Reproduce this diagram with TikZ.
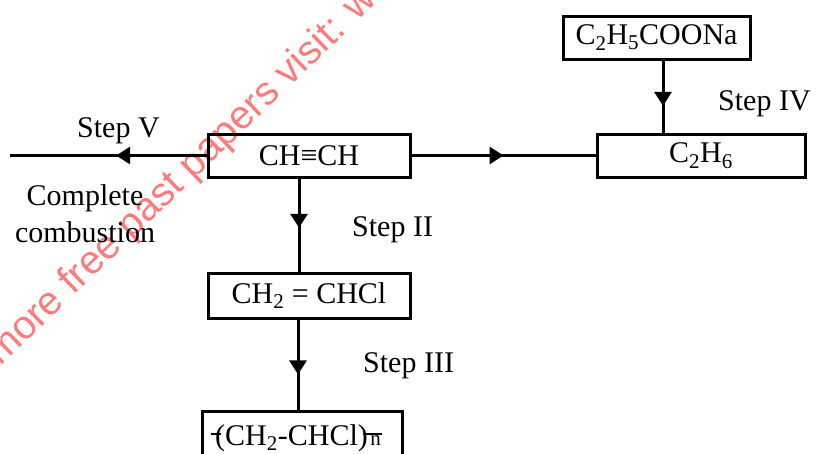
\documentclass[tikz,border=0pt]{standalone}
\usepackage{fontspec}
\setmainfont{Liberation Serif}
\newfontfamily\wmfont{Liberation Sans}
\usetikzlibrary{arrows.meta,decorations.markings}

\definecolor{wmred}{RGB}{255,122,122}

\tikzset{
  txt/.style={font=\fontsize{30}{37}\selectfont, inner sep=0pt},
  box/.style={txt, draw, line width=3pt, rectangle},
  conn/.style={line width=3pt},
  midarrow/.style={postaction={decorate}, decoration={markings,
      mark=at position #1 with {\arrow{Triangle[length=14pt,width=17pt]}}}},
  bond/.style={line width=1.5pt}
}

\begin{document}
\begin{tikzpicture}[x=1pt, y=-1pt]
  \useasboundingbox (0,0) rectangle (816,453);
  \clip (0,0) rectangle (816,453);

  % watermark
  \node[font=\wmfont\fontsize{40}{40}\selectfont, text=wmred, rotate=44,
        anchor=base west, inner sep=0pt] (wm) at (0,367)
        {more free past papers visit: www};

  % compound boxes
  \node[box, minimum width=202pt, minimum height=43pt] (acet) at (309,155.5) {CH≡CH};
  \node[box, minimum width=208pt, minimum height=43pt] (ethane) at (701,155.5) {C\textsubscript{2}H\textsubscript{6}};
  \node[box, minimum width=187pt, minimum height=43pt] (salt) at (656.5,37.5) {C\textsubscript{2}H\textsubscript{5}COONa};
  \node[box, minimum width=202pt, minimum height=45pt] (vcl) at (309,295.5) {CH\textsubscript{2} = CHCl};
  \node[box, minimum width=200pt, minimum height=60pt] (pvc) at (302,441) {};

  % polymer formula
  \node[txt, anchor=base west] (pvctxt) at (215,445) {(CH\textsubscript{2}-CHCl)};
  \node[font=\fontsize{21}{21}\selectfont, inner sep=0pt, anchor=base west] (pvcn)
        at ([xshift=2pt]pvctxt.base east) {n};
  \draw[bond] ([xshift=-4pt,yshift=11pt]pvctxt.base west) -- ++(10,0);
  \draw[bond] ([xshift=-5pt,yshift=11pt]pvctxt.base east) -- ([xshift=1pt,yshift=11pt]pvcn.base east);

  % free end of the combustion line
  \coordinate (burn) at (10,155.5);

  % connectors
  \draw[conn, midarrow=0.46] (acet.west) -- (burn);
  \draw[conn, midarrow=0.50] (acet.east) -- (ethane.west);
  \draw[conn, midarrow=0.63] ([xshift=6.5pt]salt.south) -- ([xshift=6.5pt]salt.south |- ethane.north);
  \draw[conn, midarrow=0.53] ([xshift=-10pt]acet.south) -- ([xshift=-10pt]acet.south |- vcl.north);
  \draw[conn, midarrow=0.61] ([xshift=-11pt]vcl.south) -- ([xshift=-11pt]vcl.south |- pvc.north);

  % step labels
  \node[txt, anchor=base west] (s5) at (77,137) {Step V};
  \node[txt, anchor=base west] (s2) at (352,236) {Step II};
  \node[txt, anchor=base west] (s3) at (363,372) {Step III};
  \node[txt, anchor=base west] (s4) at (718,110) {Step IV};
  \node[txt, anchor=base, align=center] (comb) at (85,242) {Complete\\combustion};
\end{tikzpicture}
\end{document}
